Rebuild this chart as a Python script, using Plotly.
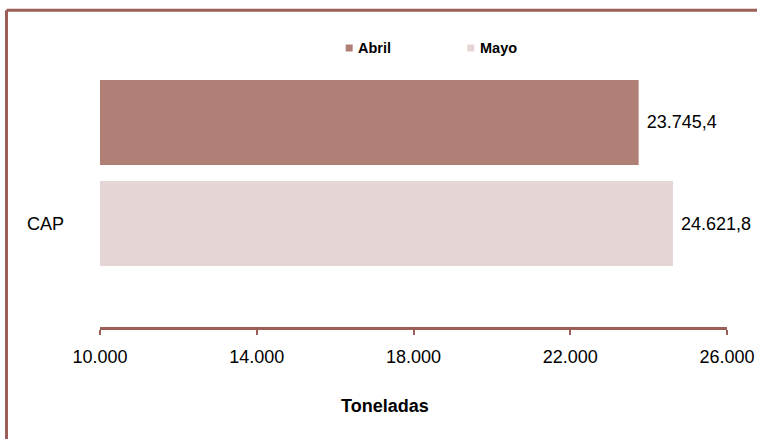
import plotly.graph_objects as go

categories = ["CAP"]
series_names = ["Abril", "Mayo"]
abril = [23745.4]
mayo = [24621.8]
series_values = [abril, mayo]
series_colors = ["#b07f75", "#e6d5d5"]
tick_vals = [10000, 14000, 18000, 22000, 26000]
axis_title = "Toneladas"

W, H = 757, 439
ML, MR, MT, MB = 100, 30, 19, 112
PW, PH = W - ML - MR, H - MT - MB
FRAME = "#9b5f57"
FONT = "Liberation Sans, Arial, sans-serif"


def px(x):
    return (x - ML) / PW


def py(y):
    return (H - MB - y) / PH


fig = go.Figure()
for name, vals, col in zip(series_names, series_values, series_colors):
    fig.add_trace(go.Bar(
        name=name, y=categories, x=vals, orientation="h",
        marker=dict(color=col, line=dict(width=0)),
        texttemplate="\u00a0%{x:,.1f}", textposition="outside",
        textfont=dict(size=18, color="#000000", family=FONT),
        cliponaxis=False, constraintext="none", showlegend=False,
    ))

fig.update_layout(
    width=W, height=H, autosize=False,
    margin=dict(l=ML, r=MR, t=MT, b=MB, pad=0, autoexpand=False),
    paper_bgcolor="white", plot_bgcolor="white",
    barmode="group", bargap=0.344, bargroupgap=0.158,
    separators=",.",
    font=dict(family=FONT, size=18, color="#000000"),
    xaxis=dict(
        range=[tick_vals[0], tick_vals[-1]], tickvals=tick_vals, tickformat=",d",
        showline=True, linecolor=FRAME, linewidth=3,
        ticks="outside", ticklen=5, tickwidth=2, tickcolor=FRAME,
        ticklabelstandoff=6,
        showgrid=False, zeroline=False, automargin=False,
        tickfont=dict(size=18, family=FONT, color="#000000"),
    ),
    yaxis=dict(
        type="category", range=[0.5, -0.5], showticklabels=False,
        showgrid=False, zeroline=False, showline=False, ticks="", automargin=False,
    ),
)

# frame (cropped chart border: top and left edges)
fig.add_shape(type="line", xref="paper", yref="paper",
              x0=px(6.5), x1=px(760), y0=py(10.2), y1=py(10.2),
              line=dict(color=FRAME, width=3))
fig.add_shape(type="line", xref="paper", yref="paper",
              x0=px(6.5), x1=px(6.5), y0=py(10.2), y1=py(445),
              line=dict(color=FRAME, width=3))

# custom legend
leg_x = [345.7, 467.3]
for name, col, lx in zip(series_names, series_colors, leg_x):
    fig.add_shape(type="rect", xref="paper", yref="paper",
                  x0=px(lx), x1=px(lx + 7), y0=py(44.5), y1=py(51.5),
                  fillcolor=col, line=dict(width=0))
    fig.add_annotation(text="<b>%s</b>" % name, xref="paper", yref="paper",
                       x=px(lx + 10.5), y=py(48), xanchor="left", yanchor="middle",
                       showarrow=False, font=dict(size=14.5, family=FONT, color="#000000"))

# category label
fig.add_annotation(text=categories[0], xref="paper", yref="paper",
                   x=px(65.5), y=py(224), xanchor="right", yanchor="middle",
                   showarrow=False, font=dict(size=18, family=FONT, color="#000000"))

# axis title
fig.add_annotation(text="<b>%s</b>" % axis_title, xref="paper", yref="paper",
                   x=px(385.4), y=py(406), xanchor="center", yanchor="middle",
                   showarrow=False, font=dict(size=18, family=FONT, color="#000000"))

fig.write_html(
    "out.html",
    config={"responsive": False, "displayModeBar": False},
    post_script="document.body.style.margin='0';document.body.style.overflow='hidden';",
)
